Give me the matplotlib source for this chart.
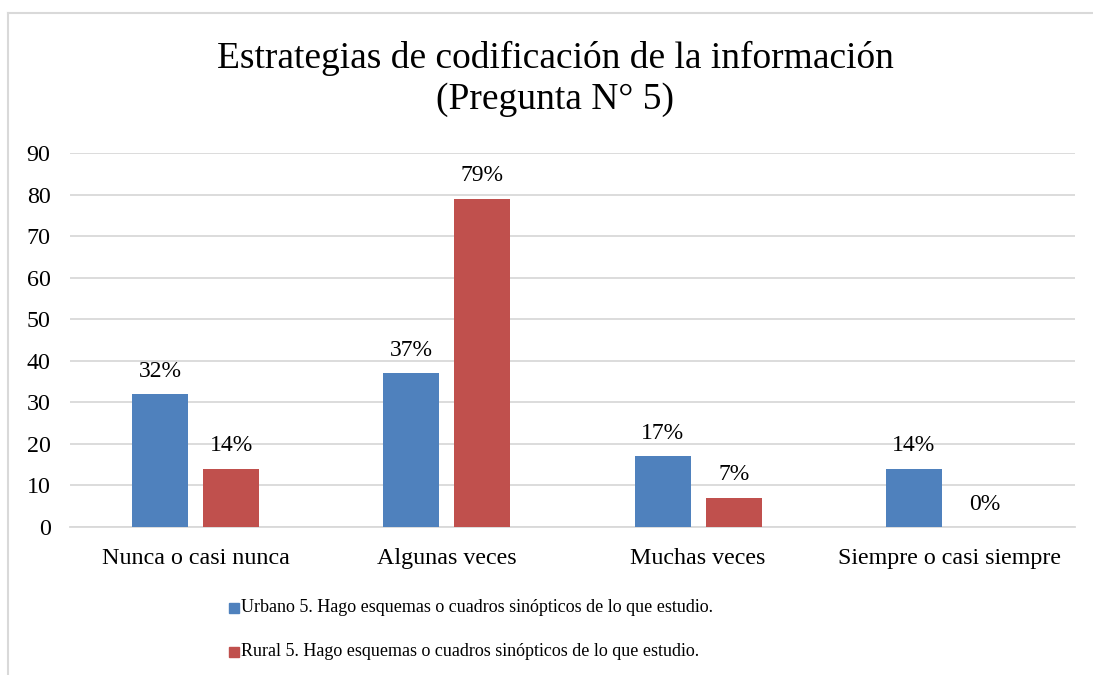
import matplotlib
matplotlib.use("Agg")
import matplotlib.pyplot as plt
from matplotlib.patches import Rectangle
from matplotlib.lines import Line2D
import numpy as np

categories = ["Nunca o casi nunca", "Algunas veces", "Muchas veces", "Siempre o casi siempre"]
urbano = [32, 37, 17, 14]
rural = [14, 79, 7, 0]
series_names = ["Urbano 5. Hago esquemas o cuadros sinópticos de lo que estudio.",
                "Rural 5. Hago esquemas o cuadros sinópticos de lo que estudio."]
yticks = [0, 10, 20, 30, 40, 50, 60, 70, 80, 90]
title_lines = ["Estrategias de codificación de la información", "(Pregunta N° 5)"]

BLUE = "#4F81BD"
RED = "#C0504D"
FONT = "Liberation Serif"

W, H = 1093, 675
fig = plt.figure(figsize=(W / 100, H / 100), dpi=100)
fig.patch.set_facecolor("white")

# outer chart border (top and left visible)
fig.add_artist(Line2D([8 / W, 1.0], [1 - 13 / H, 1 - 13 / H], transform=fig.transFigure,
                      color="#D9D9D9", lw=1.5))
fig.add_artist(Line2D([8 / W, 8 / W], [0, 1 - 13 / H], transform=fig.transFigure,
                      color="#D9D9D9", lw=1.5))

ax = fig.add_axes([70 / W, 1 - 527 / H, 1005 / W, (527 - 153) / H])
x = np.arange(len(categories))
bw = 0.223
off = 0.1415
b1 = ax.bar(x - off, urbano, bw, color=BLUE, zorder=3)
b2 = ax.bar(x + off, rural, bw, color=RED, zorder=3)

ax.set_xlim(-0.5, len(categories) - 0.5)
ax.set_ylim(0, 90)
ax.set_yticks(yticks)
ax.yaxis.grid(True, color="#D9D9D9", lw=1.3, zorder=0)
ax.set_axisbelow(True)
for s in ["top", "right", "left"]:
    ax.spines[s].set_visible(False)
ax.spines["bottom"].set_color("#D9D9D9")
ax.spines["bottom"].set_linewidth(1.3)
ax.tick_params(axis="both", length=0, labelsize=17.3)
ax.tick_params(axis="y", pad=14)
ax.tick_params(axis="x", pad=15)
ax.set_xticks(x)
ax.set_xticklabels(categories, fontfamily=FONT)
for lbl in ax.get_yticklabels():
    lbl.set_fontfamily(FONT)

for bars, vals in ((b1, urbano), (b2, rural)):
    for rect, v in zip(bars, vals):
        ax.annotate(f"{v}%", (rect.get_x() + rect.get_width() / 2, v),
                    xytext=(0, 9), textcoords="offset points",
                    ha="center", va="bottom", fontsize=17, fontfamily=FONT)

# title
fig.text(555 / W, 1 - 58 / H, title_lines[0], ha="center", va="center",
         fontsize=27, fontfamily=FONT)
fig.text(555 / W, 1 - 100 / H, title_lines[1], ha="center", va="center",
         fontsize=27, fontfamily=FONT)

# legend
for i, (name, col) in enumerate(zip(series_names, [BLUE, RED])):
    yc = 608 + i * 44
    fig.add_artist(Rectangle((229 / W, 1 - (yc + 5) / H), 10 / W, 10 / H,
                             transform=fig.transFigure, color=col))
    fig.text(241 / W, 1 - yc / H, name, ha="left", va="center",
             fontsize=13, fontfamily=FONT)

fig.savefig("out.png", dpi=100)
